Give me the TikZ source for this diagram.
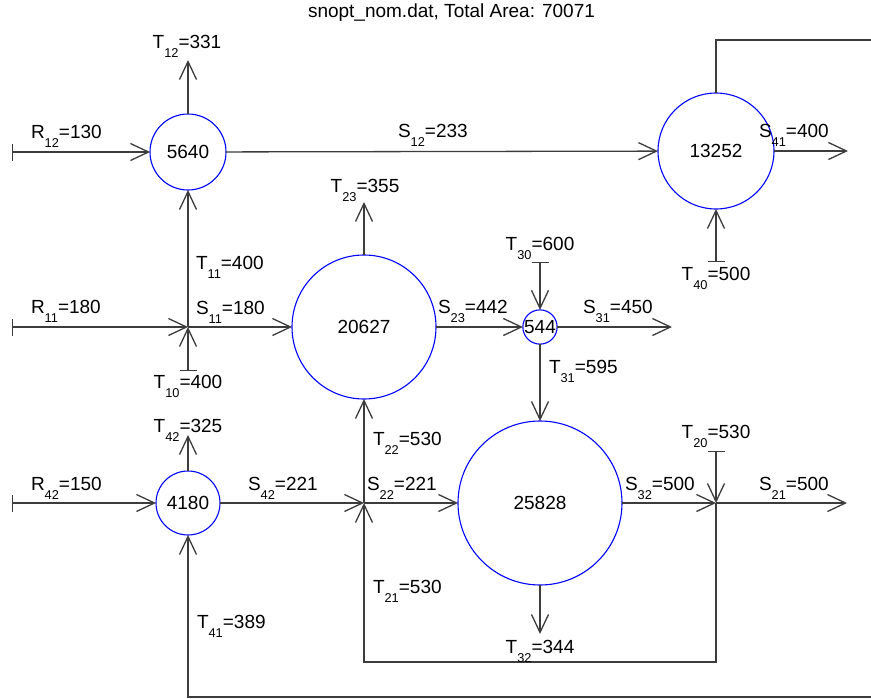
\documentclass[tikz,border=0pt]{standalone}
\usepackage{fontspec}
\setmainfont{Liberation Sans}
\usetikzlibrary{arrows.meta}
\definecolor{ln}{RGB}{60,60,60}
\definecolor{cb}{RGB}{0,0,255}
\newcommand\sublab[3]{#1\raisebox{-9.5pt}{\fontsize{12.8}{13}\selectfont #2}=#3}
\tikzset{
  lab/.style={font=\fontsize{19}{21}\selectfont, inner sep=0pt, outer sep=0pt},
  pool/.style={circle, draw=cb, line width=1.1pt, inner sep=0pt, outer sep=0pt, font=\fontsize{19}{21}\selectfont},
  flow/.style={draw=ln, line width=1.3pt, -{Straight Barb[length=18pt,width=17pt]}},
  barflow/.style={draw=ln, line width=1.3pt, {Bar[width=17pt]}-{Straight Barb[length=18pt,width=17pt]}},
  plain/.style={draw=ln, line width=1.3pt},
}
\begin{document}
\begin{tikzpicture}[x=1pt,y=-1pt]
\useasboundingbox (0,0) rectangle (871,699);
\fill[white] (0,0) rectangle (871,699);
% title
\node[lab, anchor=base west] (title) at (308,17) {snopt\_nom.dat, Total Area: 70071};
% pools
\node[pool, minimum size=76pt] (c5640) at (188,152) {5640};
\node[pool, minimum size=116pt] (c13252) at (716,151) {13252};
\node[pool, minimum size=144pt] (c20627) at (364,327) {20627};
\node[pool, minimum size=25pt] (c544) at (540,327) {544};
\node[pool, minimum size=164pt] (c25828) at (540,503) {25828};
\node[pool, minimum size=64pt] (c4180) at (188,503) {4180};
% coordinates
\coordinate (r12s) at (12,152);
\coordinate (t12e) at (188,60);
\coordinate (tr1) at (716,40);
\coordinate (tr2) at (871,40);
\coordinate (s41e) at (848,151);
\coordinate (t40s) at (716,262);
\coordinate (j1) at (188,327);
\coordinate (r11s) at (12,327);
\coordinate (t10s) at (188,371);
\coordinate (t23e) at (364,202);
\coordinate (t30s) at (540,262);
\coordinate (s31e) at (672,327);
\coordinate (t42e) at (188,435);
\coordinate (r42s) at (12,503);
\coordinate (j2) at (364,503);
\coordinate (j3) at (716,503);
\coordinate (t20s) at (716,451);
\coordinate (s21e) at (847,503);
\coordinate (t32e) at (540,634);
\coordinate (b1) at (716,662);
\coordinate (b2) at (364,662);
\coordinate (e1) at (871,697);
\coordinate (b3) at (188,697);
% connectors
\draw[barflow] (r12s) -- (c5640);
\draw[flow] (c5640) -- (t12e);
\draw[flow] (c5640) -- (c13252);
\draw[plain] (c13252.north) -- (tr1) -- (tr2);
\draw[flow] (c13252) -- (s41e);
\draw[barflow] (t40s) -- (c13252);
\draw[barflow] (r11s) -- (j1);
\draw[barflow] (t10s) -- (j1);
\draw[flow] (j1) -- (c5640);
\draw[flow] (j1) -- (c20627);
\draw[flow] (c20627) -- (t23e);
\draw[flow] (c20627) -- (c544);
\draw[barflow] (t30s) -- (c544);
\draw[flow] (c544) -- (s31e);
\draw[flow] (c544) -- (c25828);
\draw[flow] (c4180) -- (t42e);
\draw[barflow] (r42s) -- (c4180);
\draw[flow] (c4180) -- (j2);
\draw[flow] (j2) -- (c20627);
\draw[flow] (j2) -- (c25828);
\draw[flow] (j3) -- (b1) -- (b2) -- (j2);
\draw[barflow] (t20s) -- (j3);
\draw[flow] (c25828) -- (j3);
\draw[flow] (j3) -- (s21e);
\draw[flow] (c25828) -- (t32e);
\draw[flow] (e1) -- (b3) -- (c4180.south);
% labels
\node[lab, anchor=base] (lT12) at (187,48) {\sublab{T}{12}{331}};
\node[lab, anchor=base west] (lR12) at (31,138) {\sublab{R}{12}{130}};
\node[lab, anchor=base west] (lS12) at (398,137) {\sublab{S}{12}{233}};
\node[lab, anchor=base west] (lS41) at (759,137) {\sublab{S}{41}{400}};
\node[lab, anchor=base] (lT40) at (716,280) {\sublab{T}{40}{500}};
\node[lab, anchor=base west] (lT11) at (196,269) {\sublab{T}{11}{400}};
\node[lab, anchor=base west] (lR11) at (31,313) {\sublab{R}{11}{180}};
\node[lab, anchor=base west] (lS11) at (196,314) {\sublab{S}{11}{180}};
\node[lab, anchor=base] (lT10) at (188,388) {\sublab{T}{10}{400}};
\node[lab, anchor=base] (lT23) at (365,192) {\sublab{T}{23}{355}};
\node[lab, anchor=base west] (lS23) at (438,313) {\sublab{S}{23}{442}};
\node[lab, anchor=base] (lT30) at (540,250) {\sublab{T}{30}{600}};
\node[lab, anchor=base west] (lS31) at (583,313) {\sublab{S}{31}{450}};
\node[lab, anchor=base west] (lT31) at (549,373) {\sublab{T}{31}{595}};
\node[lab, anchor=base] (lT42) at (188,432) {\sublab{T}{42}{325}};
\node[lab, anchor=base west] (lR42) at (31,490) {\sublab{R}{42}{150}};
\node[lab, anchor=base west] (lS42) at (248,490) {\sublab{S}{42}{221}};
\node[lab, anchor=base west] (lT22) at (373,445) {\sublab{T}{22}{530}};
\node[lab, anchor=base west] (lS22) at (367,490) {\sublab{S}{22}{221}};
\node[lab, anchor=base west] (lT21) at (373,593) {\sublab{T}{21}{530}};
\node[lab, anchor=base west] (lT41) at (197,628) {\sublab{T}{41}{389}};
\node[lab, anchor=base] (lT20) at (716,438) {\sublab{T}{20}{530}};
\node[lab, anchor=base west] (lS32) at (625,490) {\sublab{S}{32}{500}};
\node[lab, anchor=base west] (lS21) at (759,490) {\sublab{S}{21}{500}};
\node[lab, anchor=base] (lT32) at (540,653) {\sublab{T}{32}{344}};
\end{tikzpicture}
\end{document}
